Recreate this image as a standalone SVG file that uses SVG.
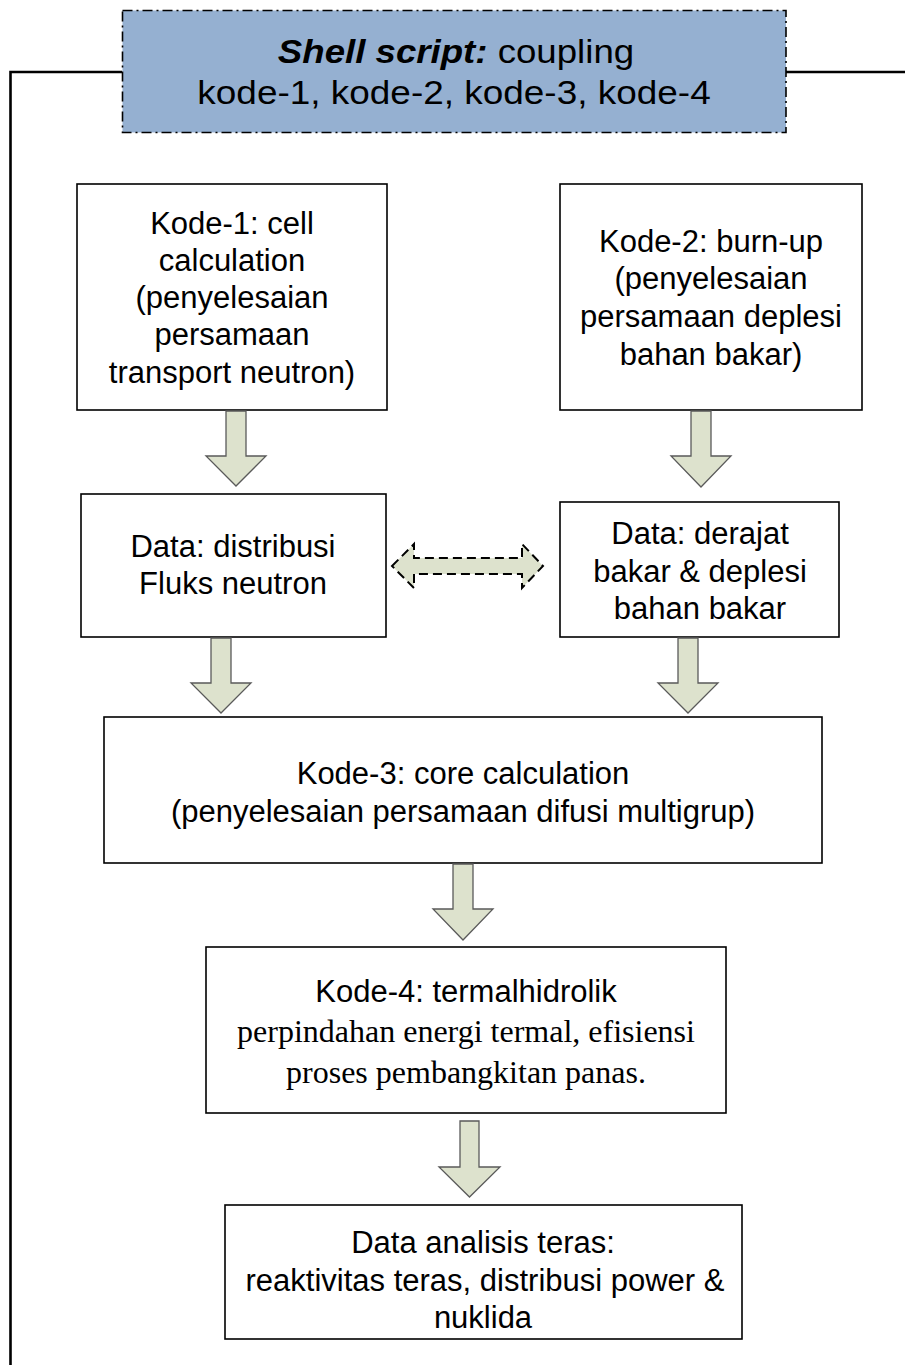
<svg xmlns="http://www.w3.org/2000/svg" width="905" height="1365" viewBox="0 0 905 1365">
  <style>
    .box { fill: #ffffff; stroke: #000000; stroke-width: 1.6; }
    .hdr { fill: #95b0d1; stroke: #000000; stroke-width: 1.6; stroke-dasharray: 10 4 2 4; }
    .frame { fill: none; stroke: #000000; stroke-width: 2.6; }
    .down { fill: #dde2cd; stroke: #5a5a5a; stroke-width: 1.3; }
    .swap { fill: #dde2cd; stroke: #000000; stroke-width: 2; stroke-dasharray: 9 5; }
    .t { font-family: "Liberation Sans", Arial, sans-serif; font-size: 31px; fill: #000000; text-anchor: middle; }
    .s { font-family: "Liberation Serif", "Times New Roman", serif; font-size: 32px; fill: #000000; text-anchor: middle; }
    .h { font-family: "Liberation Sans", Arial, sans-serif; font-size: 33px; fill: #000000; text-anchor: middle; }
  </style>

  <!-- frame line that wraps the flow from the shell script -->
  <g id="frame">
    <polyline class="frame" points="122,72 10.5,72 10.5,1365"/>
    <line class="frame" x1="786" y1="72" x2="905" y2="72"/>
  </g>

  <g id="shell-script">
    <rect class="hdr" x="122.5" y="10.5" width="663.5" height="122"/>
    <g transform="translate(456,0) scale(1.11,1)">
      <text class="h" x="0" y="63"><tspan font-weight="bold" font-style="italic">Shell script:</tspan> coupling</text>
    </g>
    <g transform="translate(454,0) scale(1.12,1)">
      <text class="h" x="0" y="104">kode-1, kode-2, kode-3, kode-4</text>
    </g>
  </g>

  <g id="kode-1">
    <rect class="box" x="77" y="184" width="310" height="226"/>
    <text class="t" x="232" y="234">Kode-1: cell</text>
    <text class="t" x="232" y="271">calculation</text>
    <text class="t" x="232" y="308">(penyelesaian</text>
    <text class="t" x="232" y="345">persamaan</text>
    <text class="t" x="232" y="383">transport neutron)</text>
  </g>

  <g id="kode-2">
    <rect class="box" x="560" y="184" width="302" height="226"/>
    <text class="t" x="711" y="252">Kode-2: burn-up</text>
    <text class="t" x="711" y="289">(penyelesaian</text>
    <text class="t" x="711" y="327">persamaan deplesi</text>
    <text class="t" x="711" y="365">bahan bakar)</text>
  </g>

  <g id="data-fluks">
    <rect class="box" x="81" y="494" width="305" height="143"/>
    <text class="t" x="233" y="557">Data: distribusi</text>
    <text class="t" x="233" y="594">Fluks neutron</text>
  </g>

  <g id="data-burnup">
    <rect class="box" x="560" y="502" width="279" height="135"/>
    <text class="t" x="700" y="544">Data: derajat</text>
    <text class="t" x="700" y="582">bakar &amp; deplesi</text>
    <text class="t" x="700" y="619">bahan bakar</text>
  </g>

  <g id="kode-3">
    <rect class="box" x="104" y="717" width="718" height="146"/>
    <text class="t" x="463" y="784">Kode-3: core calculation</text>
    <text class="t" x="463" y="822">(penyelesaian persamaan difusi multigrup)</text>
  </g>

  <g id="kode-4">
    <rect class="box" x="206" y="947" width="520" height="166"/>
    <text class="t" x="466" y="1002">Kode-4: termalhidrolik</text>
    <text class="s" x="466" y="1042">perpindahan energi termal, efisiensi</text>
    <text class="s" x="466" y="1083">proses pembangkitan panas.</text>
  </g>

  <g id="data-analisis">
    <rect class="box" x="225" y="1205" width="517" height="134"/>
    <text class="t" x="483" y="1253">Data analisis teras:</text>
    <text class="t" x="485" y="1291">reaktivitas teras, distribusi power &amp;</text>
    <text class="t" x="483" y="1328">nuklida</text>
  </g>

  <g id="connectors">
    <!-- block arrows: shaft 20 wide, head 60 wide, head 30 tall -->
    <polygon class="down" points="226,411 246,411 246,456 266,456 236,486 206,456 226,456"/>
    <polygon class="down" points="691,411 711,411 711,456 731,456 701,487 671,456 691,456"/>
    <polygon class="down" points="211,638 231,638 231,683 251,683 221,713 191,683 211,683"/>
    <polygon class="down" points="678,638 698,638 698,683 718,683 688,713 658,683 678,683"/>
    <polygon class="down" points="453,864 473,864 473,909 493,909 463,940 433,909 453,909"/>
    <polygon class="down" points="460,1121 479,1121 479,1167 500,1167 469.5,1197 439,1167 460,1167"/>
    <!-- two-way exchange between the data sets -->
    <polygon class="swap" points="392,566 414,544 414,558 522,558 522,544 543,566 522,588 522,574 414,574 414,588"/>
  </g>
</svg>
